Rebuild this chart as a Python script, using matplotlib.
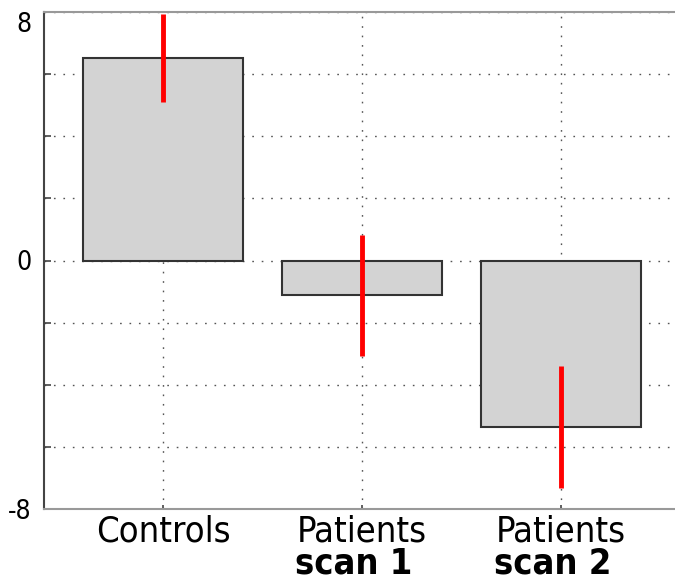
import matplotlib
matplotlib.use("Agg")
import matplotlib.pyplot as plt
import matplotlib.transforms as mtransforms

# data
groups = ["Controls", "Patients", "Patients"]
subtitles = ["", "scan 1", "scan 2"]
means = [6.52, -1.12, -5.36]
errors = [1.42, 1.94, 1.96]
ytick_vals = [-8, -6, -4, -2, 0, 2, 4, 6, 8]
ytick_labels = ["-8", "", "", "", "0", "", "", "", "8"]

font = dict(family=["DejaVu Sans"], stretch="condensed")

fig = plt.figure(figsize=(6.75, 5.83), dpi=100)
ax = fig.add_axes([44 / 675, 74 / 583, 631 / 675, 497 / 583])

x = list(range(1, len(means) + 1))
dots = (0, (1.2, 5.6))

ax.set_axisbelow(True)
ax.bar(x, means, width=0.8, color="#d3d3d3", edgecolor="#333333",
       linewidth=1.5, zorder=2)
ax.vlines(x, [m - e for m, e in zip(means, errors)],
          [m + e for m, e in zip(means, errors)],
          color="red", linewidth=3.5, zorder=3)

ax.set_xlim(0.402, 3.573)
ax.set_ylim(-8, 8)
ax.set_yticks(ytick_vals)
ax.set_yticklabels(ytick_labels, fontsize=19, **font)
ax.get_yticklabels()[-1].set_va("top")
ax.set_xticks(x)
ax.set_xticklabels(groups, fontsize=26, **font)
ax.grid(True, color="#555555", linestyle=dots, linewidth=1)

ax.tick_params(axis="y", direction="in", length=5, width=1.2, pad=9,
               color="#444444")
ax.tick_params(axis="x", direction="in", length=3, width=1.2, pad=4,
               color="#444444")

trans = mtransforms.blended_transform_factory(ax.transData, ax.transAxes)
for xi, s in zip(x, subtitles):
    if s:
        ax.text(xi - 0.04, -0.129, s, transform=trans, ha="center",
                va="baseline", fontsize=26, fontweight="bold", **font)

ax.spines["right"].set_visible(False)
ax.spines["left"].set_color("#444444")
ax.spines["left"].set_linewidth(1.5)
ax.spines["top"].set_color("#999999")
ax.spines["top"].set_linewidth(1.5)
ax.spines["bottom"].set_color("#999999")
ax.spines["bottom"].set_linewidth(1.5)

fig.savefig("out.png", dpi=100)
